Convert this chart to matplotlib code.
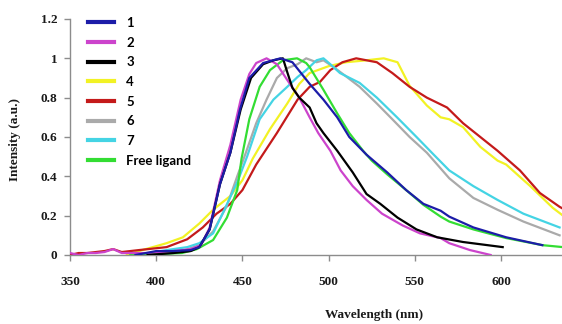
import matplotlib
matplotlib.use("Agg")
import matplotlib.pyplot as plt

# emission spectra (wavelength nm, normalised intensity)
wl_1 = [388, 400, 410, 420, 425, 431, 437, 443, 448.6, 454, 462, 472, 479, 489, 497, 505, 512, 522,
        534, 545, 555, 565, 570, 584, 603, 624]
int_1 = [0.0, 0.02, 0.02, 0.025, 0.04, 0.13, 0.36, 0.52, 0.74, 0.90, 0.976, 1.0, 0.98, 0.87, 0.79,
         0.70, 0.60, 0.51, 0.42, 0.33, 0.26, 0.225, 0.195, 0.14, 0.09, 0.05]

wl_2 = [350, 355, 360, 365, 370, 375, 380, 385, 395, 410, 420, 426, 431, 437, 443, 449, 454, 458,
        464, 470, 476, 483, 489, 494, 501, 507, 514, 522, 531, 543, 553, 565, 570, 582, 594]
int_2 = [0.01, 0.0, 0.01, 0.01, 0.015, 0.03, 0.01, 0.01, 0.01, 0.02, 0.03, 0.05, 0.14, 0.38, 0.56,
         0.79, 0.92, 0.976, 1.0, 0.97, 0.89, 0.80, 0.70, 0.62, 0.53, 0.43, 0.35, 0.28, 0.21, 0.15,
         0.11, 0.086, 0.06, 0.025, 0.0]

wl_3 = [395, 410, 420, 425, 431, 437, 443, 449, 455, 462, 468, 473.5, 476, 479, 483, 489, 493, 497,
        505, 514, 522, 530, 540, 551, 563, 578, 601]
int_3 = [0.0, 0.01, 0.02, 0.04, 0.13, 0.36, 0.52, 0.74, 0.90, 0.97, 0.99, 1.0, 0.93, 0.85, 0.80,
         0.75, 0.67, 0.62, 0.53, 0.42, 0.31, 0.26, 0.19, 0.13, 0.09, 0.066, 0.04]

wl_4 = [383, 392, 406, 415.5, 425, 433, 443, 450, 456, 466, 476, 483, 489, 500, 510, 522, 532, 540,
        547, 557, 565, 570, 578, 588, 598, 603, 617, 630, 636]
int_4 = [0.0, 0.025, 0.06, 0.09, 0.16, 0.23, 0.30, 0.38, 0.49, 0.64, 0.77, 0.87, 0.925, 0.96, 0.98,
         0.99, 1.0, 0.98, 0.86, 0.76, 0.70, 0.69, 0.65, 0.55, 0.48, 0.46, 0.35, 0.24, 0.20]

wl_5 = [350, 355, 360, 365, 370, 375, 380, 385, 390, 406, 418, 427, 435, 443, 450, 458, 470, 482,
        489, 495, 501, 508, 516, 528, 537, 547, 557, 568.7, 578, 588, 598, 611, 622.6, 634, 636]
int_5 = [0.0, 0.01, 0.01, 0.015, 0.02, 0.03, 0.015, 0.02, 0.025, 0.04, 0.08, 0.14, 0.21, 0.26, 0.33,
         0.46, 0.62, 0.79, 0.855, 0.88, 0.94, 0.98, 1.0, 0.98, 0.925, 0.855, 0.80, 0.75, 0.67, 0.60,
         0.53, 0.43, 0.315, 0.245, 0.235]

wl_6 = [400, 415, 425, 433, 441, 447, 452, 458, 464, 470, 476, 482, 487, 493, 497, 503, 510.6, 518,
        528, 537, 547, 557, 565, 570, 584, 598, 613, 634]
int_6 = [0.0, 0.02, 0.05, 0.12, 0.25, 0.40, 0.52, 0.67, 0.79, 0.90, 0.95, 0.97, 1.0, 0.98, 0.99,
         0.955, 0.905, 0.855, 0.77, 0.69, 0.60, 0.52, 0.44, 0.39, 0.29, 0.23, 0.17, 0.10]

wl_7 = [390, 406, 418, 425, 433, 439, 447, 452.7, 460, 468, 476, 482, 487, 493, 497, 501, 506.6, 518,
        528, 539.7, 551, 561, 570, 584, 598, 613, 634]
int_7 = [0.0, 0.025, 0.04, 0.06, 0.11, 0.22, 0.37, 0.50, 0.69, 0.79, 0.855, 0.905, 0.94, 0.99, 1.0,
         0.97, 0.925, 0.875, 0.80, 0.70, 0.60, 0.51, 0.43, 0.35, 0.28, 0.21, 0.14]

wl_free = [385, 400, 415, 423.6, 433, 441, 447, 449.5, 454, 460, 466, 473.5, 481.7, 487, 489, 497,
           505, 512, 520, 525, 534, 545, 555, 565, 570, 584, 603, 624, 636]
int_free = [0.0, 0.005, 0.01, 0.03, 0.076, 0.19, 0.33, 0.49, 0.69, 0.855, 0.94, 0.99, 1.0, 0.976,
            0.955, 0.84, 0.72, 0.62, 0.53, 0.48, 0.41, 0.33, 0.255, 0.195, 0.17, 0.13, 0.086, 0.05, 0.04]

labels = ["1", "2", "3", "4", "5", "6", "7", "Free ligand"]
colors = ["#1c1ca8", "#cc44cc", "#000000", "#f2f224", "#c41a1a", "#aaaaaa", "#44d4e4", "#33dd33"]

series = [(wl_1, int_1), (wl_2, int_2), (wl_3, int_3), (wl_4, int_4),
          (wl_5, int_5), (wl_6, int_6), (wl_7, int_7), (wl_free, int_free)]
zorder = [9, 7, 8, 2, 3, 4, 5, 6]

fig = plt.figure(figsize=(5.62, 3.24), dpi=100)
ax = fig.add_axes([0.1246, 0.213, 0.8754, 0.7284])

handles = []
for (x, y), lab, c, z in zip(series, labels, colors, zorder):
    ln, = ax.plot(x, y, color=c, lw=1.6, label=lab, zorder=z)
    handles.append(ln)

ax.set_xlim(350, 635.4)
ax.set_ylim(0, 1.2)
ax.set_xticks([350, 400, 450, 500, 550, 600])
ax.set_yticks([0, 0.2, 0.4, 0.6, 0.8, 1.0, 1.2])
ax.set_yticklabels(["0", "0.2", "0.4", "0.6", "0.8", "1", "1.2"])

for s in ["top", "right"]:
    ax.spines[s].set_visible(False)
for s in ["left", "bottom"]:
    ax.spines[s].set_color("#8c8c8c")
    ax.spines[s].set_linewidth(1.0)

ax.tick_params(axis="both", colors="#8c8c8c", length=4, width=1.0, labelcolor="#1a1a1a")
ax.tick_params(axis="x", pad=11)
ax.tick_params(axis="y", pad=5)
for t in ax.get_xticklabels() + ax.get_yticklabels():
    t.set_fontfamily("Liberation Serif")
    t.set_fontweight("bold")
    t.set_fontsize(9.5)

fig.text(0.665, 0.028, "Wavelength (nm)", family="Liberation Serif", weight="bold",
         fontsize=9.5, ha="center", va="center", color="#1a1a1a")
fig.text(0.027, 0.568, "Intensity (a.u.)", family="Liberation Serif", weight="bold",
         fontsize=9.5, ha="center", va="center", rotation=90, color="#1a1a1a")

leg = ax.legend(handles=handles, loc="upper left", bbox_to_anchor=(0.145, 0.968),
                bbox_transform=fig.transFigure, frameon=False,
                prop={"family": "Lato", "weight": "bold", "size": 9.5},
                handlelength=2.0, handletextpad=0.9, labelspacing=0.58, borderpad=0)
for ln in leg.get_lines():
    ln.set_linewidth(3)

fig.savefig("out.png", dpi=100)
